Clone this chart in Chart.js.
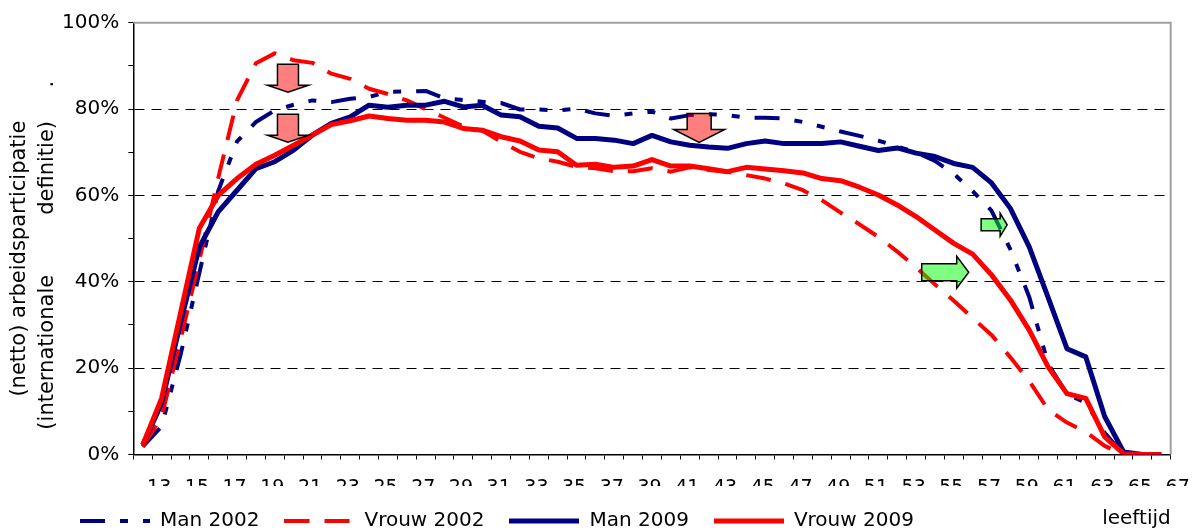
<!DOCTYPE html>
<html>
<head>
<meta charset="utf-8">
<script src="https://cdn.jsdelivr.net/npm/chart.js@4.4.1/dist/chart.umd.min.js"></script>
<style>
  html, body { margin:0; padding:0; background:#fff; }
  #wrap { width:1192px; height:530px; }
</style>
</head>
<body>
<div id="wrap"><canvas id="chart"></canvas></div>
<script>
// leeftijd (one value per age)
const ages = [12,13,14,15,16,17,18,19,20,21,22,23,24,25,26,27,28,29,30,31,32,33,34,35,36,37,38,39,
              40,41,42,43,44,45,46,47,48,49,50,51,52,53,54,55,56,57,58,59,60,61,62,63,64,65,66];
const tickLabels = ['13','15','17','19','21','23','25','27','29','31','33','35','37','39',
                    '41','43','45','47','49','51','53','55','57','59','61','63','65','67'];

const man2002   = [1.8,6.5,23,42,61,72.5,77,79.7,81,82,81.6,82.4,82.8,84,84.1,84.2,82.5,82.1,81.7,81.4,
                   79.9,79.9,79.7,80.1,79,78.4,79,79.4,77.8,78.6,78.8,78.6,78,78,77.8,77,75.9,74.8,73.8,72.7,
                   71.3,70,68,65,61,56.5,47.5,36.5,21,14,12,5,0,0,0];
const vrouw2002 = [1.8,8.7,26.5,45,64,82,90.6,92.9,91.3,90.7,88.2,87,84.7,83.5,82,80,78,76,75,72.4,
                   70.1,68.6,67.8,66.6,66.3,65.6,65.6,66.3,65.5,66.5,65.9,65.5,64.7,63.9,62.8,61.2,58.9,56,53.3,50.4,
                   47,43.3,39.4,35.6,31.6,27.7,22.5,17,10.4,7.4,5.2,2,0,0,0];
const man2009   = [2.2,11.8,30.4,48,56.2,61.2,66.2,67.8,70.5,74,76.7,78.2,80.9,80.4,80.9,80.9,81.8,80.5,80.9,78.6,
                   78.2,76,75.6,73.2,73.2,72.8,72,73.9,72.4,71.6,71.2,70.9,72,72.6,72,72,72,72.4,71.4,70.4,
                   71,69.8,69,67.4,66.5,62.9,57,48.1,36.4,24.5,22.6,8.8,0.6,0,0];
const vrouw2009 = [2.2,13,32.7,52.4,60,63.9,67.2,69.3,71.6,74,76.4,77.3,78.4,77.8,77.4,77.4,77,75.5,75.1,73.6,
                   72.6,70.5,70.1,67,67.2,66.5,66.8,68.3,66.8,66.8,66.2,65.5,66.5,66.1,65.7,65.2,63.9,63.4,61.9,60.1,
                   57.8,55.1,52,48.9,46.4,41.6,35.8,28.8,20.3,14.1,13,4.1,0.2,0,0];

// annotation arrows, anchored in data units (age, %)
const downArrows  = [ {age:19.7, top:90.4}, {age:19.7, top:78.8}, {age:41.5, top:79.0} ];
const rightArrows = [ {age:53.3, mid:42.2}, {age:56.45, mid:53.2} ];

const points = vals => ages.map((a, i) => ({ x: a, y: vals[i] }));
const bounds = ages.map(a => a - 0.5).concat(ages[ages.length - 1] + 0.5);

// legend sample line, stroked left to right so the dash pattern reads like the reference
function legendSample(ds) {
  const c = document.createElement('canvas');
  c.width = 70; c.height = 8;
  const g = c.getContext('2d');
  g.strokeStyle = ds.borderColor;
  g.lineWidth = ds.borderWidth;
  g.setLineDash(ds.borderDash || []);
  g.beginPath(); g.moveTo(0, 4); g.lineTo(70, 4); g.stroke();
  return c;
}

Chart.defaults.font.family = '"DejaVu Sans", Verdana, sans-serif';
Chart.defaults.color = '#000';

const downSizes  = [ {bw:21, bh:21, hw:41, hh:7}, {bw:21, bh:21, hw:41, hh:7}, {bw:24, bh:16, hw:51, hh:13} ];
const rightSizes = [ {bl:35, bh:17, hl:12, hh:32}, {bl:19, bh:12, hl:7, hh:23} ];

const arrowPlugin = {
  id: 'arrows',
  afterDatasetsDraw(chart) {
    const {ctx, chartArea: a, scales: {x, y}} = chart;
    ctx.save();
    // plot frame (top / right)
    ctx.strokeStyle = '#a0a0a0';
    ctx.lineWidth = 2;
    ctx.beginPath();
    ctx.moveTo(a.left, a.top); ctx.lineTo(a.right, a.top); ctx.lineTo(a.right, a.bottom);
    ctx.stroke();

    ctx.lineWidth = 1.5;
    ctx.strokeStyle = '#000';
    ctx.lineJoin = 'miter';
    downArrows.forEach((d, i) => {
      const s = downSizes[i];
      const cx = x.getPixelForValue(d.age), t = y.getPixelForValue(d.top);
      ctx.beginPath();
      ctx.moveTo(cx - s.bw/2, t); ctx.lineTo(cx + s.bw/2, t);
      ctx.lineTo(cx + s.bw/2, t + s.bh); ctx.lineTo(cx + s.hw/2, t + s.bh);
      ctx.lineTo(cx, t + s.bh + s.hh);
      ctx.lineTo(cx - s.hw/2, t + s.bh); ctx.lineTo(cx - s.bw/2, t + s.bh);
      ctx.closePath();
      ctx.fillStyle = 'rgba(255,0,0,0.5)';
      ctx.fill(); ctx.stroke();
    });
    rightArrows.forEach((r, i) => {
      const s = rightSizes[i];
      const l = x.getPixelForValue(r.age), cy = y.getPixelForValue(r.mid);
      ctx.beginPath();
      ctx.moveTo(l, cy - s.bh/2); ctx.lineTo(l + s.bl, cy - s.bh/2);
      ctx.lineTo(l + s.bl, cy - s.hh/2); ctx.lineTo(l + s.bl + s.hl, cy);
      ctx.lineTo(l + s.bl, cy + s.hh/2); ctx.lineTo(l + s.bl, cy + s.bh/2);
      ctx.lineTo(l, cy + s.bh/2);
      ctx.closePath();
      ctx.fillStyle = 'rgba(0,255,0,0.5)';
      ctx.fill(); ctx.stroke();
    });
    ctx.restore();
  }
};

new Chart(document.getElementById('chart'), {
  type: 'line',
  data: {
    datasets: [
      { label:'Man 2002',   data: points(man2002),   borderColor:'#000080', borderWidth:4, borderDash:[25,15,8,15,8,15], order:4 },
      { label:'Vrouw 2002', data: points(vrouw2002), borderColor:'#ff0000', borderWidth:4, borderDash:[25,15], order:3 },
      { label:'Man 2009',   data: points(man2009),   borderColor:'#000080', borderWidth:5, order:2 },
      { label:'Vrouw 2009', data: points(vrouw2009), borderColor:'#ff0000', borderWidth:5, order:1 }
    ]
  },
  options: {
    responsive:true, maintainAspectRatio:false, animation:false, devicePixelRatio:1,
    elements: { point:{ radius:0 }, line:{ tension:0, fill:false, borderJoinStyle:'round' } },
    layout: { padding:{ left:55, right:0, top:0, bottom:-11 } },
    plugins: {
      tooltip: { enabled:false },
      legend: {
        position:'bottom', align:'start',
        labels: {
          usePointStyle:true, pointStyleWidth:70, padding:25,
          font:{ size:20 }, color:'#000',
          sort: (a, b) => a.datasetIndex - b.datasetIndex,
          generateLabels: chart => Chart.defaults.plugins.legend.labels.generateLabels(chart).map(item => {
            item.pointStyle = legendSample(chart.data.datasets[item.datasetIndex]);
            return item;
          })
        }
      }
    },
    scales: {
      x: {
        type:'linear', min: bounds[0], max: bounds[bounds.length - 1],
        afterBuildTicks: s => { s.ticks = bounds.map(v => ({ value:v })); },
        afterFit: s => { s.height = 31.5; s.paddingRight = 21.3; },
        ticks: {
          autoSkip:false, maxRotation:0, labelOffset:7, padding:17, font:{ size:19 },
          callback: v => { const l = String(v + 0.5); return tickLabels.includes(l) ? l : ''; }
        },
        grid: { drawOnChartArea:false, tickLength:5, color:'#000', tickColor:'#000' },
        border: { color:'#000', width:1.5 },
        title: { display:true, text:'leeftijd', align:'end', font:{ size:20 }, padding:{ top:0, bottom:-45 } }
      },
      y: {
        min:0, max:100,
        afterFit: s => { s.width = 78.3; s.paddingTop = 22.7; },
        ticks: { stepSize:10, padding:9, font:{ size:20 }, callback: v => v % 20 === 0 ? v + '%' : '' },
        grid: {
          tickLength:5, tickColor:'#000', lineWidth:1,
          color: c => (c.tick && c.tick.value % 20 === 0 && c.tick.value > 0 && c.tick.value < 100) ? '#000' : 'rgba(0,0,0,0)'
        },
        border: { color:'#000', width:1.5, dash:[10,7] },
        title: {
          display:true,
          text: ['(netto) arbeidsparticipatie      ',
                 '(internationale         definitie)     .     '],
          font:{ size:21, lineHeight:1.29 }, padding:{ top:-48.5, bottom:0 }
        }
      }
    }
  },
  plugins: [arrowPlugin]
});
</script>
</body>
</html>
